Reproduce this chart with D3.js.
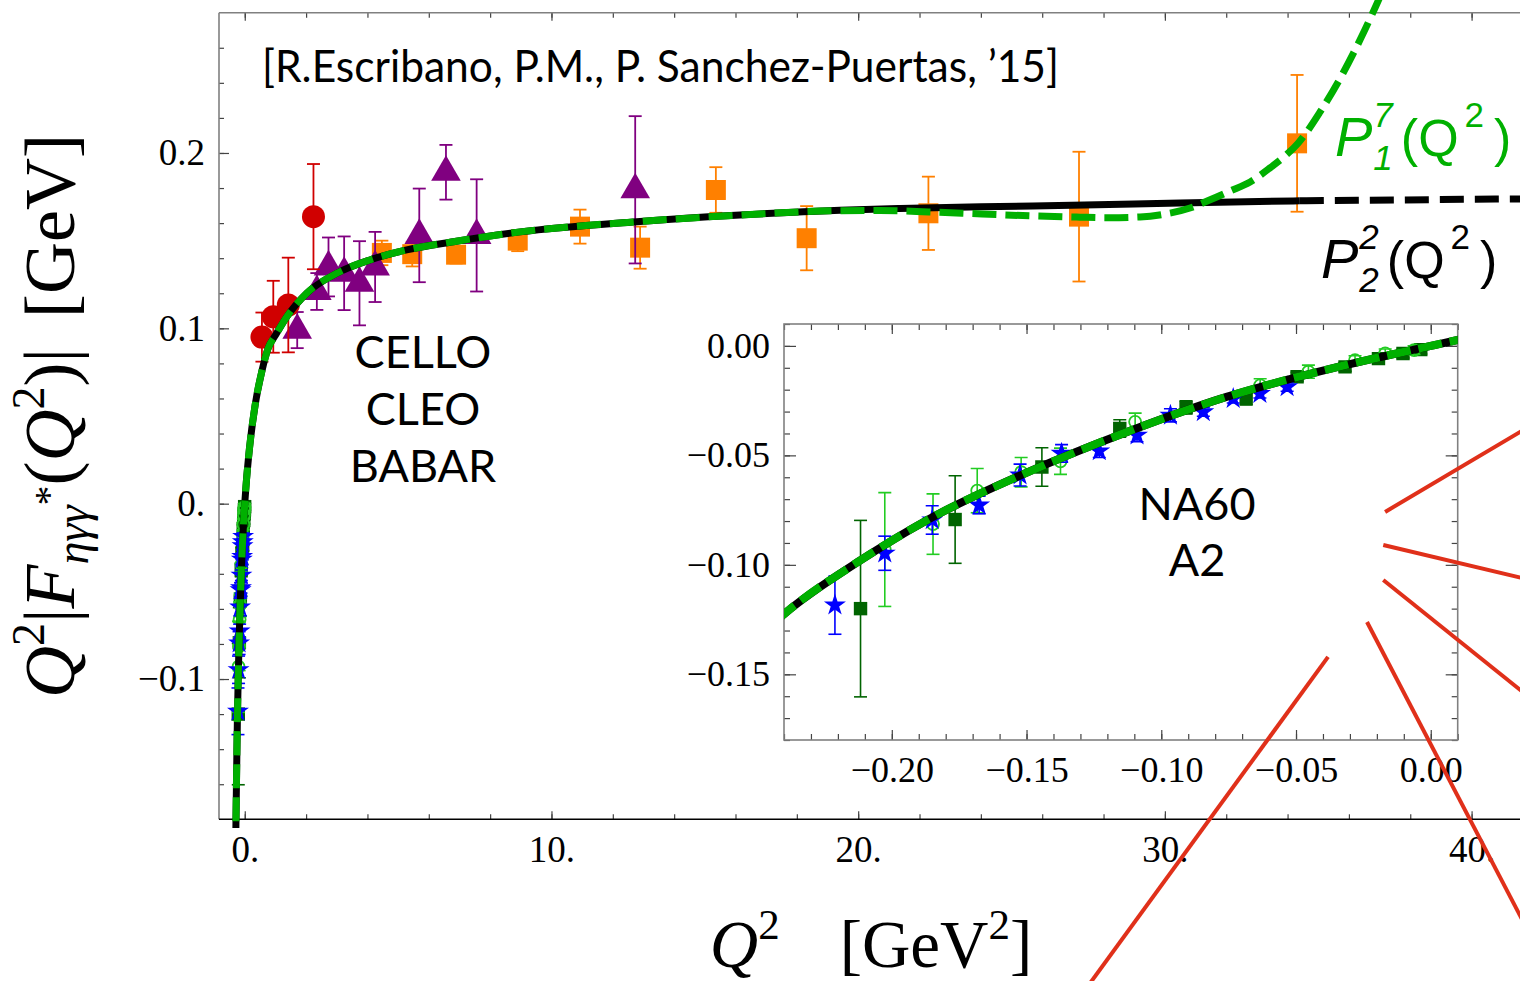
<!DOCTYPE html>
<html><head><meta charset="utf-8">
<script src="https://cdn.jsdelivr.net/npm/d3@7"></script>
<style>body{margin:0;background:#fff}svg{display:block}</style>
</head><body>
<svg id="chart" width="1520" height="981"></svg>
<script>
// ---------------- data ----------------
// CELLO (red circles)
const celloQ2  = [0.56, 0.93, 1.42, 2.24];
const celloVal = [0.095, 0.1066, 0.1133, 0.1637];
const celloErr = [0.014, 0.0205, 0.027, 0.030];
// CLEO (purple triangles)
const cleoQ2  = [1.71, 2.35, 2.73, 3.24, 3.74, 4.25, 5.69, 6.56, 7.56, 12.73];
const cleoVal = [0.099, 0.121, 0.135, 0.1314, 0.1257, 0.135, 0.153, 0.189, 0.153, 0.179];
const cleoErr = [0.0103, 0.0105, 0.0168, 0.021, 0.024, 0.02, 0.0267, 0.0156, 0.032, 0.042];
// BABAR (orange squares)
const babarQ2  = [4.47, 5.46, 6.89, 8.9, 10.93, 12.89, 15.36, 18.32, 22.29, 27.2, 34.31];
const babarVal = [0.143, 0.1423, 0.142, 0.150, 0.158, 0.146, 0.1789, 0.1514, 0.1656, 0.1637, 0.2055];
const babarErr = [0.007, 0.007, 0.005, 0.006, 0.0097, 0.012, 0.013, 0.0183, 0.0209, 0.037, 0.039];
// NA60 (blue stars)
const na60Q2  = [-0.2211, -0.2026, -0.185, -0.1676, -0.1524, -0.137, -0.123, -0.109, -0.0966, -0.0844, -0.0733, -0.0634, -0.0533];
const na60Val = [-0.1184, -0.0947, -0.0795, -0.0727, -0.059, -0.0491, -0.048, -0.0408, -0.0317, -0.0301, -0.0241, -0.0218, -0.0187];
const na60Err = [0.0133, 0.0078, 0.0065, 0.004, 0.005, 0.004, 0.003, 0.003, 0.003, 0.002, 0.002, 0.002, 0.002];
// A2 (dark green squares)
const a2sQ2  = [-0.2116, -0.1765, -0.1443, -0.1154, -0.0908, -0.0685, -0.0496, -0.0318, -0.0194, -0.0103, -0.0037];
const a2sVal = [-0.12, -0.0793, -0.0553, -0.0377, -0.0281, -0.024, -0.0141, -0.0096, -0.0058, -0.0035, -0.0017];
const a2sErr = [0.0403, 0.02, 0.0088, 0.004, 0.003, 0.003, 0.002, 0.002, 0.002, 0.002, 0.002];
// A2 (light green open circles)
const a2cQ2  = [-0.2026, -0.1847, -0.1683, -0.152, -0.1374, -0.1097, -0.0633, -0.0454, -0.0281, -0.0169, -0.0062];
const a2cVal = [-0.093, -0.0814, -0.0661, -0.0577, -0.0527, -0.0347, -0.018, -0.0118, -0.0065, -0.0034, -0.0019];
const a2cErr = [0.026, 0.0138, 0.0101, 0.0067, 0.006, 0.004, 0.003, 0.003, 0.002, 0.002, 0.002];
// P^2_2 approximant (black)
const p22Q2  = [-0.30, -0.28, -0.26, -0.24, -0.2117, -0.1868, -0.152, -0.1173, -0.0758, -0.0344, 0, 0.01, 0.05, 0.15, 0.336, 0.55, 0.77, 1.0, 1.37, 2.02, 3.0, 4.08, 5.28, 6.8, 8.98, 12.78, 16.15, 19.41, 21.36, 24.0, 27.37, 30.5, 34.4, 37.5, 41.5, 45];
const p22Val = [-0.2, -0.172, -0.146, -0.1225, -0.098, -0.0795, -0.059, -0.0415, -0.0233, -0.0096, 0, 0.0027, 0.0122, 0.031, 0.056, 0.075, 0.089, 0.096, 0.1066, 0.12, 0.1314, 0.139, 0.1447, 0.1494, 0.155, 0.1608, 0.1646, 0.1673, 0.1683, 0.1693, 0.1703, 0.1715, 0.1727, 0.1732, 0.1738, 0.1742];
const p22DataEnd = 34.4;
// P^7_1 approximant (green dashed)
const p17Q2  = [-0.30, -0.28, -0.26, -0.24, -0.2117, -0.1868, -0.152, -0.1173, -0.0758, -0.0344, 0, 0.01, 0.05, 0.15, 0.336, 0.55, 0.77, 1.0, 1.37, 2.02, 3.0, 4.08, 5.28, 6.8, 8.98, 12.78, 16.15, 19.41, 20.71, 22.3, 24.04, 25.7, 27.24, 28.2, 29.19, 30.01, 30.82, 31.38, 32.13, 32.78, 33.43, 33.92, 34.35, 35.06, 35.81, 36.36, 36.85, 37.34];
const p17Val = [-0.2, -0.172, -0.146, -0.1225, -0.098, -0.0795, -0.059, -0.0415, -0.0233, -0.0096, 0, 0.0027, 0.0122, 0.031, 0.056, 0.075, 0.089, 0.096, 0.1066, 0.12, 0.1314, 0.139, 0.1447, 0.1494, 0.155, 0.1608, 0.1646, 0.1671, 0.1672, 0.1664, 0.1652, 0.1641, 0.1634, 0.1631, 0.1635, 0.1652, 0.1686, 0.1726, 0.1783, 0.1835, 0.1915, 0.1983, 0.2057, 0.2234, 0.2456, 0.2644, 0.2827, 0.302];
// ticks
const xMajor = [0, 10, 20, 30, 40];
const xMinor = d3.range(0, 42, 2);
const yMajor = [-0.1, 0, 0.1, 0.2];
const yMinor = d3.range(-16, 28, 2).map(d => d / 100);
const xiMajor = [-0.20, -0.15, -0.10, -0.05, 0.00];
const xiMinor = d3.range(-24, 2, 1).map(d => d / 100);
const yiMajor = [-0.15, -0.10, -0.05, 0.00];
const yiMinor = d3.range(-18, 2, 1).map(d => d / 100);

// ---------------- scales ----------------
const svg = d3.select('#chart');
const x = d3.scaleLinear().domain([-0.84, 41.8]).range([219, 1526.8]);
const y = d3.scaleLinear().domain([-0.18, 0.28]).range([819.3, 12.7]);
const xi = d3.scaleLinear().domain([-0.24, 0.01]).range([784, 1457.7]);
const yi = d3.scaleLinear().domain([-0.18, 0.01]).range([740, 324]);

const SERIF = "'Liberation Serif','Times New Roman',serif";
const GILL = "Lato,'Open Sans',sans-serif";
const SANS = "'Liberation Sans',Arial,sans-serif";

const defs = svg.append('defs');
defs.append('clipPath').attr('id', 'mainClip').append('rect')
  .attr('x', 219).attr('y', 0).attr('width', 1400).attr('height', 828);
defs.append('clipPath').attr('id', 'insetClip').append('rect')
  .attr('x', 784).attr('y', 324).attr('width', 673.7).attr('height', 416);

// ---------------- main frame & axes ----------------
function styleAxis(g, fs) {
  g.attr('font-family', SERIF).attr('font-size', fs);
  g.selectAll('.domain').remove();
  g.selectAll('.tick line').attr('stroke', '#444').attr('stroke-width', 1.2);
  g.selectAll('.tick text').attr('fill', '#000');
}
const yBot = y.range()[0], yTop = y.range()[1];
svg.append('g').attr('transform', `translate(0,${yBot})`)
  .call(d3.axisBottom(x).tickValues(xMinor).tickSize(-5).tickFormat(''))
  .call(g => styleAxis(g, 37));
svg.append('g').attr('transform', `translate(0,${yBot})`)
  .call(d3.axisBottom(x).tickValues(xMajor).tickSize(-8).tickPadding(16.4).tickFormat(d => d + '.'))
  .call(g => styleAxis(g, 37));
svg.append('g').attr('transform', `translate(0,${yTop})`)
  .call(d3.axisTop(x).tickValues(xMinor).tickSize(-5).tickFormat(''))
  .call(g => styleAxis(g, 37));
svg.append('g').attr('transform', `translate(0,${yTop})`)
  .call(d3.axisTop(x).tickValues(xMajor).tickSize(-8).tickFormat(''))
  .call(g => styleAxis(g, 37));
svg.append('g').attr('transform', `translate(219,0)`)
  .call(d3.axisLeft(y).tickValues(yMinor).tickSize(-5).tickFormat(''))
  .call(g => styleAxis(g, 37));
svg.append('g').attr('transform', `translate(219,0)`)
  .call(d3.axisLeft(y).tickValues(yMajor).tickSize(-10).tickPadding(14)
    .tickFormat(d => d === 0 ? '0.' : d3.format('.1f')(d)))
  .call(g => styleAxis(g, 37));
svg.append('line').attr('x1', 219).attr('x2', 1520).attr('y1', yTop).attr('y2', yTop).attr('stroke', '#808080').attr('stroke-width', 1.4);
svg.append('line').attr('x1', 219).attr('x2', 219).attr('y1', yTop).attr('y2', yBot).attr('stroke', '#808080').attr('stroke-width', 1.6);
svg.append('line').attr('x1', 219).attr('x2', 1520).attr('y1', yBot).attr('y2', yBot).attr('stroke', '#000').attr('stroke-width', 1.6);

// ---------------- helpers ----------------
function drawSeries(g, xS, yS, q, v, e, o) {
  const data = q.map((d, i) => ({ q: d, v: v[i], e: e[i] }));
  const eg = g.append('g').attr('stroke', o.color).attr('stroke-width', o.sw).attr('fill', 'none');
  data.forEach(d => {
    const px = xS(d.q), y1 = yS(d.v + d.e), y2 = yS(d.v - d.e);
    eg.append('line').attr('x1', px).attr('x2', px).attr('y1', y1).attr('y2', y2);
    eg.append('line').attr('x1', px - o.cap / 2).attr('x2', px + o.cap / 2).attr('y1', y1).attr('y2', y1);
    eg.append('line').attr('x1', px - o.cap / 2).attr('x2', px + o.cap / 2).attr('y1', y2).attr('y2', y2);
  });
  g.append('g').selectAll('path').data(data).join('path')
    .attr('transform', d => `translate(${xS(d.q)},${yS(d.v)})`)
    .attr('d', d3.symbol(o.symbol, o.size))
    .attr('fill', o.fill).attr('stroke', o.stroke || 'none').attr('stroke-width', o.strokeW || 0);
}
function curvePts(q, v, filt) {
  return q.map((d, i) => [d, v[i]]).filter(filt || (() => true));
}
function drawCurves(g, xS, yS, w, dashG, dashB, withTail) {
  const line = d3.line().x(d => xS(d[0])).y(d => yS(d[1])).curve(d3.curveMonotoneX);
  g.append('path').attr('d', line(curvePts(p22Q2, p22Val, d => d[0] <= p22DataEnd)))
    .attr('fill', 'none').attr('stroke', '#000').attr('stroke-width', w);
  if (withTail) {
    g.append('path').attr('d', line(curvePts(p22Q2, p22Val, d => d[0] >= p22DataEnd)))
      .attr('fill', 'none').attr('stroke', '#000').attr('stroke-width', w).attr('stroke-dasharray', dashB);
  }
  g.append('path').attr('d', line(curvePts(p17Q2, p17Val)))
    .attr('fill', 'none').attr('stroke', '#00b000').attr('stroke-width', w).attr('stroke-dasharray', dashG);
}
const styles = {
  cello: { color: '#d00000', sw: 1.8, cap: 13, symbol: d3.symbolCircle, size: Math.PI * 11.5 * 11.5, fill: '#d00000' },
  cleo:  { color: '#800080', sw: 1.8, cap: 13, symbol: d3.symbolTriangle, size: 380, fill: '#800080' },
  babar: { color: '#ff8000', sw: 1.8, cap: 13, symbol: d3.symbolSquare, size: 400, fill: '#ff8000' },
  na60:  { color: '#0000ff', sw: 1.6, cap: 13, symbol: d3.symbolStar, size: 150, fill: '#0000ff' },
  a2s:   { color: '#006400', sw: 1.6, cap: 13, symbol: d3.symbolSquare, size: 180, fill: '#006400' },
  a2c:   { color: '#22cc22', sw: 1.6, cap: 13, symbol: d3.symbolCircle, size: Math.PI * 36, fill: 'none', stroke: '#22cc22', strokeW: 1.8 }
};

// ---------------- main plot ----------------
const main = svg.append('g').attr('clip-path', 'url(#mainClip)');
drawSeries(main, x, y, a2sQ2, a2sVal, a2sErr, styles.a2s);
drawSeries(main, x, y, a2cQ2, a2cVal, a2cErr, styles.a2c);
drawSeries(main, x, y, na60Q2, na60Val, na60Err, styles.na60);
drawSeries(main, x, y, babarQ2, babarVal, babarErr, styles.babar);
drawSeries(main, x, y, cleoQ2, cleoVal, cleoErr, styles.cleo);
drawSeries(main, x, y, celloQ2, celloVal, celloErr, styles.cello);
drawCurves(main, x, y, 7, '24,9', '24,11', true);

// ---------------- inset ----------------
const inset = svg.append('g');
inset.append('rect').attr('x', 784).attr('y', 324).attr('width', 673.7).attr('height', 416).attr('fill', '#fff');
const iB = yi.range()[0], iT = yi.range()[1], iL = xi.range()[0], iR = xi.range()[1];
inset.append('g').attr('transform', `translate(0,${iB})`)
  .call(d3.axisBottom(xi).tickValues(xiMinor).tickSize(-6).tickFormat('')).call(g => styleAxis(g, 36));
inset.append('g').attr('transform', `translate(0,${iB})`)
  .call(d3.axisBottom(xi).tickValues(xiMajor).tickSize(-10).tickPadding(16).tickFormat(d3.format('.2f'))).call(g => styleAxis(g, 36));
inset.append('g').attr('transform', `translate(0,${iT})`)
  .call(d3.axisTop(xi).tickValues(xiMinor).tickSize(-6).tickFormat('')).call(g => styleAxis(g, 36));
inset.append('g').attr('transform', `translate(0,${iT})`)
  .call(d3.axisTop(xi).tickValues(xiMajor).tickSize(-10).tickFormat('')).call(g => styleAxis(g, 36));
inset.append('g').attr('transform', `translate(${iL},0)`)
  .call(d3.axisLeft(yi).tickValues(yiMinor).tickSize(-6).tickFormat('')).call(g => styleAxis(g, 36));
inset.append('g').attr('transform', `translate(${iL},0)`)
  .call(d3.axisLeft(yi).tickValues(yiMajor).tickSize(-12).tickPadding(14).tickFormat(d3.format('.2f'))).call(g => styleAxis(g, 36));
inset.append('g').attr('transform', `translate(${iR},0)`)
  .call(d3.axisRight(yi).tickValues(yiMinor).tickSize(-6).tickFormat('')).call(g => styleAxis(g, 36));
inset.append('g').attr('transform', `translate(${iR},0)`)
  .call(d3.axisRight(yi).tickValues(yiMajor).tickSize(-12).tickFormat('')).call(g => styleAxis(g, 36));
inset.append('rect').attr('x', iL).attr('y', iT).attr('width', iR - iL).attr('height', iB - iT)
  .attr('fill', 'none').attr('stroke', '#808080').attr('stroke-width', 1.6);
const insetPlot = inset.append('g').attr('clip-path', 'url(#insetClip)');
drawSeries(insetPlot, xi, yi, a2sQ2, a2sVal, a2sErr, styles.a2s);
drawSeries(insetPlot, xi, yi, a2cQ2, a2cVal, a2cErr, styles.a2c);
drawSeries(insetPlot, xi, yi, na60Q2, na60Val, na60Err, styles.na60);
drawCurves(insetPlot, xi, yi, 8, '24,8', '24,8', false);

// ---------------- texts ----------------
function rich(t, parts) {
  parts.forEach(p => {
    const ts = t.append('tspan').text(p.t);
    if (p.it) ts.attr('font-style', 'italic');
    if (p.fs) ts.attr('font-size', p.fs);
    if (p.dy) ts.attr('dy', p.dy);
    if (p.dx) ts.attr('dx', p.dx);
  });
  return t;
}
svg.append('text').attr('x', 262).attr('y', 82).attr('font-family', GILL).attr('font-size', 44)
  .attr('textLength', 797).attr('lengthAdjust', 'spacingAndGlyphs')
  .text('[R.Escribano, P.M., P. Sanchez-Puertas, \u201915]');
['CELLO', 'CLEO', 'BABAR'].forEach((s, i) =>
  svg.append('text').attr('x', 423).attr('y', 368 + i * 57).attr('text-anchor', 'middle')
    .attr('font-family', GILL).attr('font-size', 45).text(s));
['NA60', 'A2'].forEach((s, i) =>
  svg.append('text').attr('x', 1197).attr('y', 520 + i * 56).attr('text-anchor', 'middle')
    .attr('font-family', GILL).attr('font-size', 45).text(s));

// Pade labels (single text element each)
function padeLabel(x0, base, sub, sup, color) {
  rich(svg.append('text').attr('x', x0).attr('y', base).attr('fill', color)
    .attr('font-family', SANS).attr('font-size', 52), [
    { t: 'P', it: true, fs: 56 },
    { t: sub, it: true, fs: 35, dy: 14, dx: 1 },
    { t: sup, it: true, fs: 35, dy: -43, dx: -19.5 },
    { t: '(', fs: 52, dy: 29, dx: 8 },
    { t: 'Q', fs: 52 },
    { t: '2', fs: 35, dy: -29, dx: 6 },
    { t: ')', fs: 52, dy: 29, dx: 10 }
  ]);
}
padeLabel(1335, 156, '1', '7', '#00b000');
padeLabel(1321, 278, '2', '2', '#000');

// axis titles
rich(svg.append('text').attr('x', 871).attr('y', 967).attr('text-anchor', 'middle')
  .attr('font-family', SERIF).attr('font-size', 67), [
  { t: 'Q', it: true },
  { t: '2', fs: 43, dy: -28 },
  { t: '[GeV', fs: 67, dy: 28, dx: 60 },
  { t: '2', fs: 43, dy: -28 },
  { t: ']', fs: 67, dy: 28 }
]);
rich(svg.append('text').attr('transform', 'translate(74,416) rotate(-90)').attr('text-anchor', 'middle')
  .attr('font-family', SERIF).attr('font-size', 72), [
  { t: 'Q', it: true },
  { t: '2', fs: 46, dy: -30 },
  { t: '|', fs: 72, dy: 30 },
  { t: 'F', it: true },
  { t: '\u03b7\u03b3\u03b3', it: true, fs: 46, dy: 14 },
  { t: '*', fs: 40, dy: -26 },
  { t: '(', fs: 72, dy: 12 },
  { t: 'Q', it: true },
  { t: '2', fs: 46, dy: -30 },
  { t: ')|', fs: 72, dy: 30 },
  { t: '[GeV]', dx: 30 }
]);

// ---------------- red annotation rays (main data coordinates) ----------------
const rayStart = [[37.18, -0.0047], [37.12, -0.0236], [37.12, -0.0435], [36.59, -0.0675], [35.32, -0.0874]];
const rayEnd   = [[41.91, 0.0443], [41.91, -0.0435], [41.91, -0.1108], [41.91, -0.246], [27.4, -0.2773]];
svg.append('g').selectAll('line').data(rayStart).join('line')
  .attr('x1', d => x(d[0])).attr('y1', d => y(d[1]))
  .attr('x2', (d, i) => x(rayEnd[i][0])).attr('y2', (d, i) => y(rayEnd[i][1]))
  .attr('stroke', '#e0301a').attr('stroke-width', 4);
</script>
</body></html>
